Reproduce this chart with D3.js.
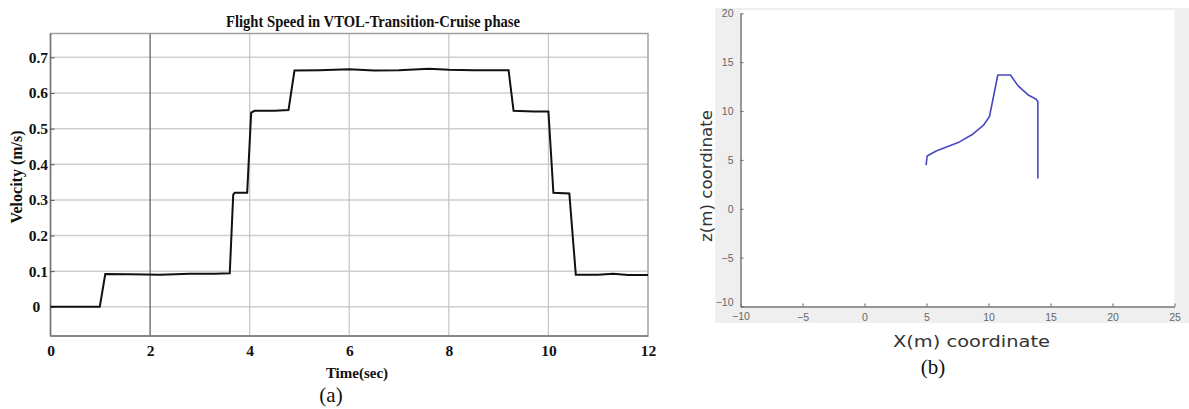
<!DOCTYPE html>
<html><head><meta charset="utf-8">
<script src="https://cdn.jsdelivr.net/npm/d3@7"></script>
<style>body{margin:0;background:#fff}svg{display:block}</style>
</head><body>
<svg id="c" width="1189" height="409"></svg>
<script>
// ---- Data (a): flight speed ----
const timeSec = [0, 0.4, 0.99, 1.1, 1.6, 2.2, 2.8, 3.3, 3.6, 3.67, 3.7, 3.95, 4.03, 4.1, 4.5, 4.78, 4.9, 5.4, 6.0, 6.5, 7.0, 7.6, 8.0, 8.5, 9.2, 9.3, 9.7, 10.0, 10.1, 10.42, 10.55, 11.0, 11.3, 11.6, 12.0];
const velocity = [0.0, 0.0, 0.0, 0.092, 0.091, 0.090, 0.093, 0.093, 0.094, 0.315, 0.32, 0.32, 0.545, 0.55, 0.55, 0.552, 0.663, 0.664, 0.667, 0.663, 0.664, 0.668, 0.665, 0.664, 0.664, 0.55, 0.548, 0.548, 0.32, 0.318, 0.09, 0.09, 0.093, 0.089, 0.089];
const xTicksA = [0, 2, 4, 6, 8, 10, 12];
const yTicksA = [0, 0.1, 0.2, 0.3, 0.4, 0.5, 0.6, 0.7];

// ---- Data (b): trajectory ----
const trajX = [4.97, 5.05, 5.78, 7.66, 8.73, 9.6, 10.08, 10.75, 11.77, 12.37, 13.17, 13.85, 13.98, 13.98];
const trajZ = [4.47, 5.4, 5.91, 6.84, 7.63, 8.55, 9.44, 13.69, 13.69, 12.6, 11.67, 11.2, 10.95, 3.1];
const xTicksB = [-10, -5, 0, 5, 10, 15, 20, 25];
const yTicksB = [-10, -5, 0, 5, 10, 15, 20];

const svg = d3.select("#c");
const serif = "'Liberation Serif','Times New Roman',serif";
const sans = "'DejaVu Sans','Liberation Sans',Arial,sans-serif";

// ===== Chart (a) =====
const A = {l: 50.5, r: 648, t: 33.5, b: 336};
const xa = d3.scaleLinear().domain([0, 12]).range([A.l, A.r]);
const ya = d3.scaleLinear().domain([-0.082, 0.767]).range([A.b, A.t]);
const ga = svg.append("g");

// grid
ga.append("g").selectAll("line").data(yTicksA).join("line")
  .attr("x1", A.l).attr("x2", A.r).attr("y1", d => ya(d)).attr("y2", d => ya(d))
  .attr("stroke", "#cfcfcf").attr("stroke-width", 1.5);
ga.append("g").selectAll("line").data(xTicksA.slice(1, -1)).join("line")
  .attr("y1", A.t).attr("y2", A.b).attr("x1", d => xa(d)).attr("x2", d => xa(d))
  .attr("stroke", d => d === 2 ? "#555" : "#c4c4c4").attr("stroke-width", 1.2);

// frame
ga.append("rect").attr("x", A.l).attr("y", A.t).attr("width", A.r - A.l).attr("height", A.b - A.t)
  .attr("fill", "none").attr("stroke", "#a0a0a0").attr("stroke-width", 1.5);
ga.append("line").attr("x1", A.l).attr("x2", A.l).attr("y1", A.t).attr("y2", A.b).attr("stroke", "#777").attr("stroke-width", 1.5);
ga.append("line").attr("x1", A.l).attr("x2", A.r).attr("y1", A.b).attr("y2", A.b).attr("stroke", "#777").attr("stroke-width", 1.5);

// axes
const axA_x = ga.append("g").attr("transform", `translate(0,${A.b})`)
  .call(d3.axisBottom(xa).tickValues(xTicksA).tickSize(0).tickPadding(9).tickFormat(d3.format("d")));
const axA_y = ga.append("g").attr("transform", `translate(${A.l},0)`)
  .call(d3.axisLeft(ya).tickValues(yTicksA).tickSize(-4).tickPadding(2.5).tickFormat(d => d === 0 ? "0" : d3.format(".1f")(d)));
[axA_x, axA_y].forEach(g => {
  g.select(".domain").remove();
  g.selectAll("line").attr("stroke", "#555");
  g.selectAll("text").attr("font-family", serif).attr("font-weight", "bold").attr("font-size", 15.5).attr("fill", "#111");
});
axA_y.selectAll(".tick text").filter(d => d === 0).attr("dx", "-0.5em");

// line
ga.append("path").datum(timeSec.map((t, i) => [t, velocity[i]]))
  .attr("fill", "none").attr("stroke", "#111").attr("stroke-width", 2)
  .attr("d", d3.line().x(d => xa(d[0])).y(d => ya(d[1])));

// titles
ga.append("text").attr("x", 226).attr("y", 27.3)
  .attr("font-family", serif).attr("font-weight", "bold").attr("font-size", 17).attr("fill", "#111")
  .attr("textLength", 294).attr("lengthAdjust", "spacingAndGlyphs")
  .text("Flight Speed in VTOL-Transition-Cruise phase");
ga.append("text").attr("transform", "translate(22,177) rotate(-90)").attr("text-anchor", "middle")
  .attr("font-family", serif).attr("font-weight", "bold").attr("font-size", 16).attr("fill", "#111")
  .text("Velocity (m/s)");
ga.append("text").attr("x", 357).attr("y", 378).attr("text-anchor", "middle")
  .attr("font-family", serif).attr("font-weight", "bold").attr("font-size", 15).attr("fill", "#111")
  .text("Time(sec)");
ga.append("text").attr("x", 331).attr("y", 402).attr("text-anchor", "middle")
  .attr("font-family", serif).attr("font-size", 21).attr("fill", "#111").text("(a)");

// ===== Chart (b) =====
const B = {l: 740.5, r: 1174.5, t: 13.3, b: 306.5};
const xb = d3.scaleLinear().domain([-10, 25]).range([B.l, B.r]);
const yb = d3.scaleLinear().domain([-10, 20]).range([B.b, B.t]);
const gb = svg.append("g");

gb.append("rect").attr("x", 715).attr("y", 8).attr("width", 474).attr("height", 315).attr("fill", "#efefef");
gb.append("rect").attr("x", B.l).attr("y", 10).attr("width", B.r - B.l).attr("height", B.b - 10).attr("fill", "#fff");

const axB_x = gb.append("g").attr("transform", `translate(0,${B.b})`)
  .call(d3.axisBottom(xb).tickValues(xTicksB).tickSize(-3).tickPadding(7).tickSizeOuter(0));
const axB_y = gb.append("g").attr("transform", `translate(${B.l},0)`)
  .call(d3.axisLeft(yb).tickValues(yTicksB).tickSize(-3).tickPadding(7).tickSizeOuter(0));
[axB_x, axB_y].forEach(g => {
  g.select(".domain").attr("stroke", "#777").attr("stroke-width", 1.5);
  g.selectAll(".tick line").attr("stroke", "#666");
  g.selectAll("text").attr("font-family", "'Liberation Sans',Arial,sans-serif").attr("font-size", 10.5).attr("fill", "#666");
});
axB_y.selectAll(".tick text").filter(d => d === -10).attr("dy", "-0.1em");
axB_x.selectAll(".tick text").filter(d => d === -10).attr("dy", "0.6em");

gb.append("path").datum(trajX.map((x, i) => [x, trajZ[i]]))
  .attr("fill", "none").attr("stroke", "#4848c0").attr("stroke-width", 1.6).attr("stroke-linejoin", "round")
  .attr("d", d3.line().x(d => xb(d[0])).y(d => yb(d[1])));

gb.append("text").attr("transform", "translate(712,242) rotate(-90)")
  .attr("font-family", sans).attr("font-size", 15).attr("fill", "#333")
  .attr("textLength", 132).attr("lengthAdjust", "spacingAndGlyphs").text("z(m) coordinate");
gb.append("text").attr("x", 893).attr("y", 347)
  .attr("font-family", sans).attr("font-size", 15).attr("fill", "#333")
  .attr("textLength", 157).attr("lengthAdjust", "spacingAndGlyphs").text("X(m) coordinate");
gb.append("text").attr("x", 933).attr("y", 374).attr("text-anchor", "middle")
  .attr("font-family", serif).attr("font-size", 21).attr("fill", "#111").text("(b)");
</script>
</body></html>
